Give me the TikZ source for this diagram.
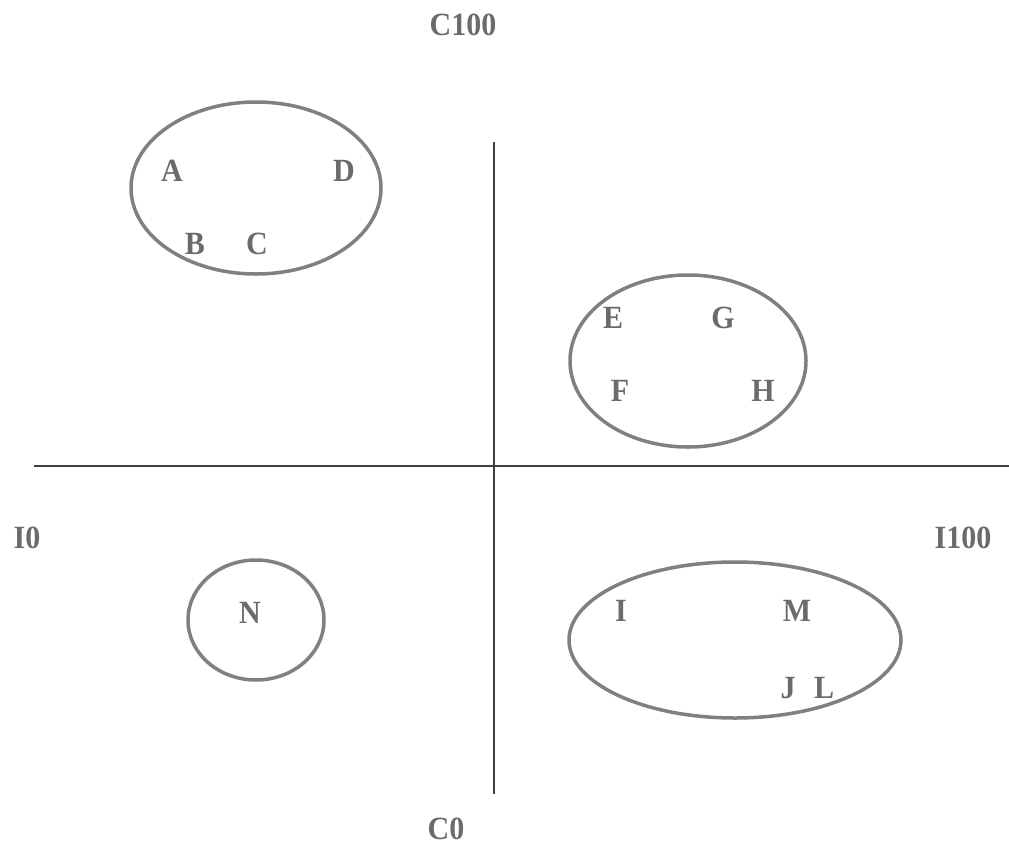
\documentclass[tikz,border=0pt]{standalone}
\usepackage{fontspec}
\setmainfont{Liberation Serif}
\begin{document}
\begin{tikzpicture}[x=1pt,y=-1pt,
  lbl/.style={text=black!58,font=\fontsize{30}{32}\selectfont\bfseries,inner sep=0pt,yscale=1.08},
  grp/.style={draw=black!50,line width=3.5pt},
  axis/.style={draw=black!75,line width=1.8pt}]
\useasboundingbox (0,0) rectangle (1009,846);
% axes
\coordinate (xl) at (34,466);
\coordinate (xr) at (1009,466);
\coordinate (yt) at (494,142);
\coordinate (yb) at (494,794);
\draw[axis] (xl) -- (xr);
\draw[axis] (yt) -- (yb);
% axis labels
\node[lbl] (c100) at (463,25) {C100};
\node[lbl] (c0) at (446,829) {C0};
\node[lbl] (i0) at (27,538) {I0};
\node[lbl] (i100) at (963,538) {I100};
% groups
\draw[grp] (256,188) ellipse [x radius=125, y radius=86];
\draw[grp] (688,361) ellipse [x radius=118, y radius=86];
\draw[grp] (256,620) ellipse [x radius=68, y radius=60];
\draw[grp] (735,640) ellipse [x radius=166, y radius=78];
% items
\node[lbl] (A) at (172,171) {A};
\node[lbl] (D) at (344,171) {D};
\node[lbl] (B) at (195,244) {B};
\node[lbl] (C) at (257,244) {C};
\node[lbl] (E) at (613,318) {E};
\node[lbl] (G) at (723,318) {G};
\node[lbl] (F) at (620,391) {F};
\node[lbl] (H) at (763,391) {H};
\node[lbl] (N) at (250,613) {N};
\node[lbl] (I) at (621,611) {I};
\node[lbl] (M) at (797,611) {M};
\node[lbl] (J) at (788,688) {J};
\node[lbl] (L) at (824,688) {L};
\end{tikzpicture}
\end{document}
